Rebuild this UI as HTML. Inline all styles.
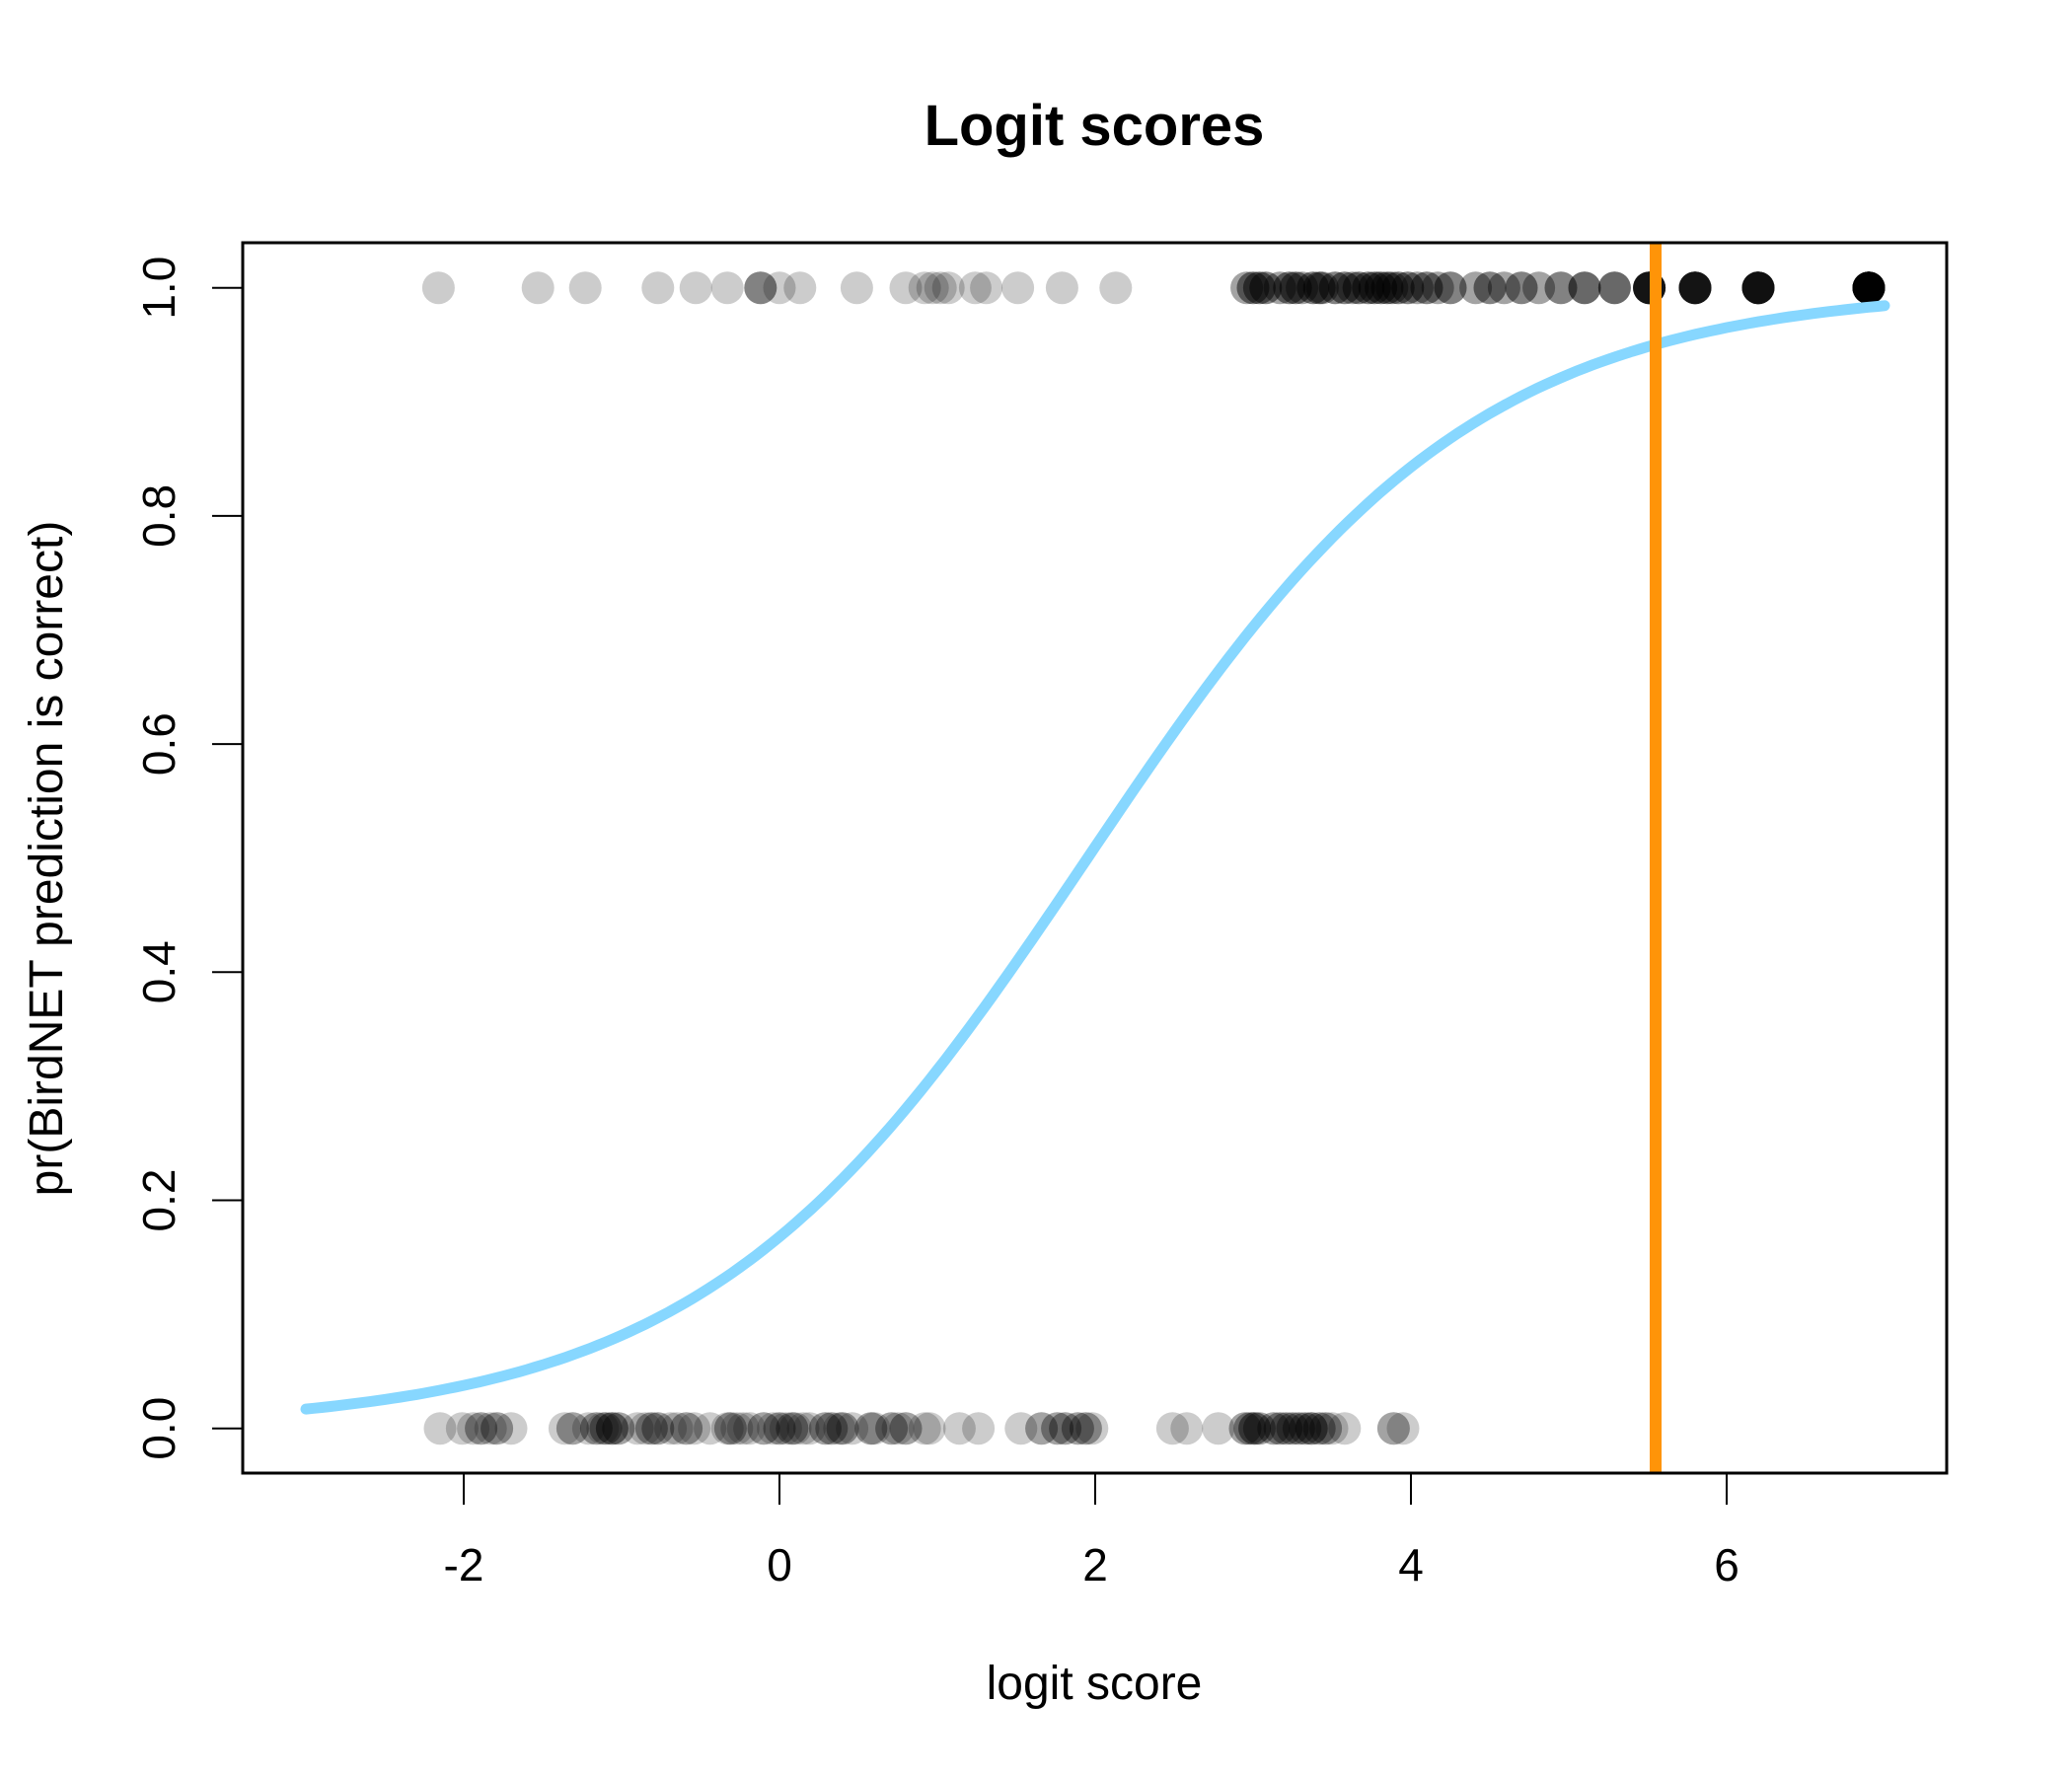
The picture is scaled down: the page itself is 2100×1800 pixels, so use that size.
<!DOCTYPE html>
<html><head><meta charset="utf-8"><style>
html,body{margin:0;padding:0;background:#fff;}
svg{display:block;font-family:"Liberation Sans",Arial,sans-serif;}
</style></head><body>
<svg id="chart" width="2100" height="1800" viewBox="0 0 2100 1800" xmlns="http://www.w3.org/2000/svg">
<rect x="0" y="0" width="2100" height="1800" fill="#fff"/>
<text x="1109" y="147" text-anchor="middle" font-size="58" font-weight="bold">Logit scores</text>
<text x="1109" y="1722" text-anchor="middle" font-size="48">logit score</text>
<text transform="translate(63,870) rotate(-90)" text-anchor="middle" font-size="48">pr(BirdNET prediction is correct)</text>
<g id="marks"></g>
<rect x="246" y="246" width="1727" height="1247" fill="none" stroke="#000" stroke-width="3"/>
</svg>
<script>
const xTicks = [-2, 0, 2, 4, 6];
const yTicks = [0.0, 0.2, 0.4, 0.6, 0.8, 1.0];
const yTickLabels = ["0.0", "0.2", "0.4", "0.6", "0.8", "1.0"];
const correctX = [-2.16,-1.53,-1.23,-0.77,-0.53,-0.33,-0.12,0.0,0.13,0.49,0.80,0.92,0.97,1.02,1.07,1.24,1.31,1.51,1.79,2.13,
  2.96,3.0,3.04,3.08,3.17,3.23,3.27,3.31,3.38,3.42,3.44,3.52,3.58,3.63,3.67,3.73,3.77,3.81,3.85,3.88,3.92,3.98,4.04,4.10,4.17,4.25,4.41,4.50,4.59,4.70,4.81,4.95,5.10,5.29,5.51,5.80,6.20,6.90];
const correctN = [1,1,1,1,1,1,3,1,1,1,1,1,1,1,1,1,1,1,1,1,
  2,3,3,3,2,3,3,2,3,3,2,3,3,2,3,3,3,3,3,2,3,3,2,3,2,3,2,3,2,3,2,3,4,4,11,11,12,20];
const wrongX = [-2.15,-2.01,-1.94,-1.89,-1.83,-1.79,-1.70,-1.36,-1.31,-1.21,-1.16,-1.12,-1.10,-1.06,-1.02,-0.90,-0.85,-0.81,-0.77,-0.69,-0.65,-0.59,-0.54,-0.44,-0.33,-0.31,-0.27,-0.23,-0.19,-0.10,-0.04,0.0,0.04,0.08,0.10,0.15,0.19,0.29,0.33,0.38,0.40,0.46,0.58,0.60,0.71,0.75,0.80,0.92,0.95,1.14,1.26,
  1.53,1.66,1.76,1.81,1.89,1.94,1.98,2.49,2.58,2.78,2.95,2.98,3.01,3.04,3.13,3.17,3.21,3.25,3.29,3.33,3.37,3.42,3.46,3.50,3.58,3.89,3.95];
const wrongN = [1,1,1,2,1,2,1,1,2,1,2,1,2,3,2,1,1,2,2,1,1,2,1,1,1,2,1,1,1,2,1,2,1,2,1,1,1,2,2,1,2,1,2,1,2,1,2,1,1,1,1,
  1,2,2,2,2,2,1,1,1,1,2,2,3,2,2,2,2,2,2,2,3,2,2,1,1,2,1];
const curveIntercept = -1.6;
const curveSlope = 0.82;
const curveRange = [-3, 7];
const thresholdX = [5.55];

const NS = "http://www.w3.org/2000/svg";
const X = v => 790 + 160 * v;
const Y = p => 1447.7 - 1156 * p;
const g = document.getElementById('marks');
function mk(tag, attrs){const e=document.createElementNS(NS,tag);for(const k in attrs)e.setAttribute(k,attrs[k]);return e;}

xTicks.forEach((t,i)=>{
  const l=mk('line',{x1:X(t),x2:X(t),y1:1493,y2:1525,stroke:'#000','stroke-width':2});
  
  
  g.appendChild(l);
  const tx=mk('text',{x:X(t),y:1602,'text-anchor':'middle','font-size':46});
  
  
  tx.textContent=String(t);g.appendChild(tx);
});
yTicks.forEach((t,i)=>{
  const l=mk('line',{x1:215,x2:246,y1:Y(t),y2:Y(t),stroke:'#000','stroke-width':2});
  
  
  g.appendChild(l);
  const tx=mk('text',{transform:`translate(177,${Y(t)}) rotate(-90)`,'text-anchor':'middle','font-size':46});
  
  
  tx.textContent=yTickLabels[i];g.appendChild(tx);
});
function drawPts(xs, ns, p, name){
  xs.forEach((v,i)=>{
    for(let k=0;k<ns[i];k++){
      const c=mk('circle',{cx:X(v),cy:Y(p),r:16.5,fill:'#000','fill-opacity':0.2});
      
      
      g.appendChild(c);
    }
  });
}
drawPts(correctX, correctN, 1, 'point-correct');
drawPts(wrongX, wrongN, 0, 'point-incorrect');
let d='';
for(let i=0;i<=200;i++){
  const v=curveRange[0]+(curveRange[1]-curveRange[0])*i/200;
  const p=1/(1+Math.exp(-(curveIntercept+curveSlope*v)));
  d+=(i?'L':'M')+X(v).toFixed(1)+','+Y(p).toFixed(1);
}
const path=mk('path',{d:d,fill:'none',stroke:'#87d7ff','stroke-width':11,'stroke-linecap':'round'});


g.appendChild(path);
thresholdX.forEach(v=>{
  const l=mk('line',{x1:X(v),x2:X(v),y1:246,y2:1493,stroke:'#ff9408','stroke-width':12});
  
  
  g.appendChild(l);
});
</script>
</body></html>
